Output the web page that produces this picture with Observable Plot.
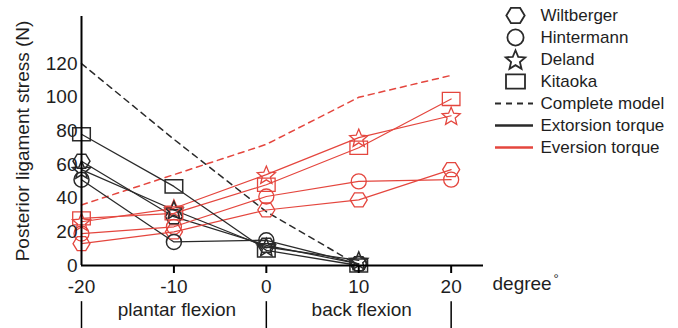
<!DOCTYPE html>
<html><head><meta charset="utf-8">
<script src="https://cdn.jsdelivr.net/npm/d3@7"></script>
<script src="https://cdn.jsdelivr.net/npm/@observablehq/plot@0.6"></script>
<style>
html,body{margin:0;padding:0;background:#fff;}
#wrap{position:relative;width:678px;height:328px;}
#legend{position:absolute;left:488px;top:0;}
svg{font-family:"Liberation Sans",Arial,sans-serif;}
</style></head><body>
<div id="wrap"><div id="chart"></div><div id="legend"></div></div>
<script>
// ---- data ----
const degrees = [-20, -10, 0, 10, 20];
const extDegrees = [-20, -10, 0, 10];
const studies = ["Wiltberger", "Hintermann", "Deland", "Kitaoka"];
// Extorsion torque (black), -20..10
const extWiltberger = [62, 29, 12, 1];
const extHintermann = [51, 14, 15, 1];
const extDeland     = [57, 33, 11, 3];
const extKitaoka    = [78, 47, 9, 0];
// Eversion torque (red), -20..20
const evWiltberger = [13, 20, 33, 39, 57];
const evHintermann = [19, 23, 41, 50, 51];
const evDeland     = [26, 34, 54, 76, 89];
const evKitaoka    = [28, 31, 48, 70, 99];
// Complete model
const completeExt = [120, 75, 32, 0];
const completeEv  = [36, 54, 72, 100, 113];
const yTicks = [0, 20, 40, 60, 80, 100, 120];
const regionBounds = [-20, 0, 20];
const regionLabels = ["plantar flexion", "back flexion"];
const regionCenters = [-10, 10];
const yLabel = "Posterior ligament stress (N)";
const xUnit = "degree";
const xUnitMark = "\u00B0";
const legendLabels = ["Wiltberger", "Hintermann", "Deland", "Kitaoka", "Complete model", "Extorsion torque", "Eversion torque"];

const BLACK = "#2a2a2a", RED = "#e4463e", TEXT = "#1e1e1e";
const FS = 19;

// ---- symbols ----
function makeSym(fn){ return {draw(c, size){ const r = Math.sqrt(size/Math.PI); fn(c, r); }}; }
const hexSym = makeSym((c,r)=>{ const h=r*0.82; c.moveTo(r,0); c.lineTo(r/2,h); c.lineTo(-r/2,h); c.lineTo(-r,0); c.lineTo(-r/2,-h); c.lineTo(r/2,-h); c.closePath(); });
const circSym = makeSym((c,r)=>{ c.moveTo(r,0); c.arc(0,0,r,0,2*Math.PI); c.closePath(); });
const starSym = makeSym((c,r)=>{ for(let i=0;i<10;i++){ const a=-Math.PI/2+i*Math.PI/5; const rr=i%2?r*0.45:r; const x=rr*Math.cos(a), y=rr*Math.sin(a)+r*0.1; if(i) c.lineTo(x,y); else c.moveTo(x,y);} c.closePath(); });
const rectSym = makeSym((c,r)=>{ const w=r*1.1, h=r*0.82; c.rect(-w,-h,2*w,2*h); });
const symbols = [hexSym, circSym, starSym, rectSym];
const symR = [8.5, 7.5, 9.5, 8];

const extSeries = [extWiltberger, extHintermann, extDeland, extKitaoka];
const evSeries = [evWiltberger, evHintermann, evDeland, evKitaoka];
const toRows = (xs, vs) => xs.map((d,i)=>({degree:d, value:vs[i]}));

const marks = [];
// dashed complete model
marks.push(Plot.line(toRows(extDegrees, completeExt), {x:"degree", y:"value", stroke:BLACK, strokeWidth:1.5, strokeDasharray:"6,5"}));
marks.push(Plot.line(toRows(degrees, completeEv), {x:"degree", y:"value", stroke:RED, strokeWidth:1.5, strokeDasharray:"6,5"}));
// solid lines
studies.forEach((s,i)=>{
  marks.push(Plot.line(toRows(extDegrees, extSeries[i]), {x:"degree", y:"value", stroke:BLACK, strokeWidth:1.3}));
  marks.push(Plot.line(toRows(degrees, evSeries[i]), {x:"degree", y:"value", stroke:RED, strokeWidth:1.2}));
});
// symbols
studies.forEach((s,i)=>{
  marks.push(Plot.dot(toRows(degrees, evSeries[i]), {x:"degree", y:"value", symbol:symbols[i], r:symR[i], stroke:RED, strokeWidth:1.3, fill:"none"}));
  marks.push(Plot.dot(toRows(extDegrees, extSeries[i]), {x:"degree", y:"value", symbol:symbols[i], r:symR[i], stroke:BLACK, strokeWidth:1.5, fill:"none"}));
});
// axes
marks.push(Plot.ruleX([-20], {stroke:"#000", strokeWidth:2}));
marks.push(Plot.ruleY([0], {stroke:"#000", strokeWidth:2}));
marks.push(Plot.axisY({ticks:yTicks, tickSize:0, tickPadding:4, fontSize:FS, label:null, tickFormat:d=>String(d), fill:TEXT}));
marks.push(Plot.axisX({ticks:degrees.slice(1), tickSize:8, tickFormat:()=>"", label:null, strokeWidth:2, stroke:"#000"}));
marks.push(Plot.axisX({ticks:degrees, tickSize:0, tickPadding:14, fontSize:FS, label:null, tickFormat:d=>String(d), fill:TEXT}));
// region separators + labels
marks.push(Plot.ruleX(regionBounds, {y1:-21.5, y2:-40, stroke:"#000", strokeWidth:1.5}));
marks.push(Plot.text(regionLabels, {x:(d,i)=>regionCenters[i], frameAnchor:"bottom", dy:50, dx:3, fontSize:FS, fill:TEXT}));
marks.push(Plot.text([xUnit], {frameAnchor:"bottom-right", dx:9, dy:24, textAnchor:"start", fontSize:FS, fill:TEXT}));
marks.push(Plot.text([xUnitMark], {frameAnchor:"bottom-right", dx:70, dy:17, textAnchor:"start", fontSize:13, fill:TEXT}));
marks.push(Plot.text([yLabel], {frameAnchor:"left", dx:-59, rotate:-90, textAnchor:"middle", fontSize:FS, fill:TEXT}));

const chart = Plot.plot({
  width:678, height:328,
  marginTop:16, marginBottom:63, marginLeft:81, marginRight:195,
  x:{domain:[-20, 23.5]},
  y:{domain:[0, 148]},
  style:{fontFamily:"Liberation Sans, Arial, sans-serif", background:"transparent"},
  marks
});
document.getElementById("chart").append(chart);

// ---- legend ----
const legSymbols = legendLabels.slice(0,4).map((l,i)=>({label:l, i}));
const legLines = [
  {label:legendLabels[4], stroke:BLACK, dash:"6,5", w:2.2},
  {label:legendLabels[5], stroke:BLACK, dash:null, w:2.5},
  {label:legendLabels[6], stroke:RED, dash:null, w:2.5}
];
const legMarks = [];
legSymbols.forEach(d=>{
  legMarks.push(Plot.dot([d], {y:"label", frameAnchor:"left", dx:27, symbol:symbols[d.i], r:symR[d.i]*1.08, stroke:BLACK, strokeWidth:1.8, fill:"none"}));
});
legLines.forEach(d=>{
  legMarks.push(Plot.ruleY([d], {y:"label", insetLeft:7, insetRight:145, stroke:d.stroke, strokeWidth:d.w, strokeDasharray:d.dash}));
});
legMarks.push(Plot.text(legendLabels, {y:d=>d, text:d=>d, frameAnchor:"left", dx:52, textAnchor:"start", fontSize:17, fill:TEXT}));
const legend = Plot.plot({
  width:190, height:165, margin:0,
  y:{type:"point", domain:legendLabels, range:[15,147], padding:0, axis:null},
  style:{fontFamily:"Liberation Sans, Arial, sans-serif", background:"transparent"},
  marks:legMarks
});
document.getElementById("legend").append(legend);
</script>
</body></html>
